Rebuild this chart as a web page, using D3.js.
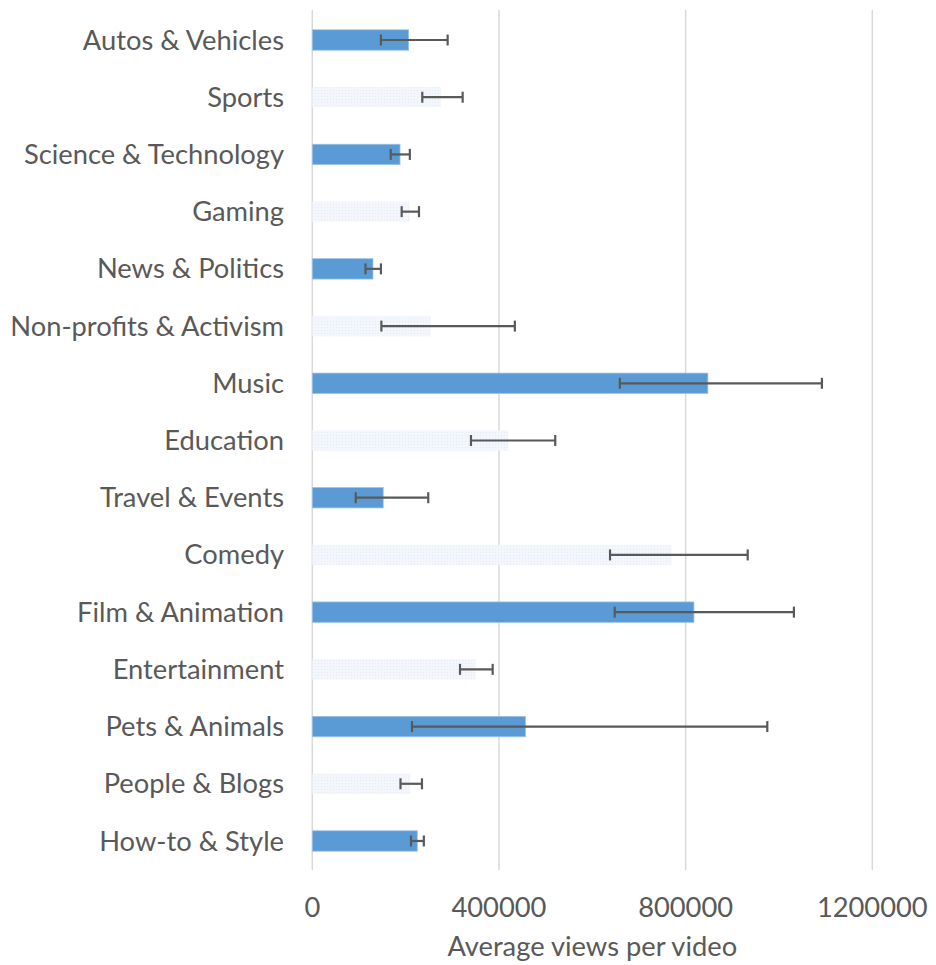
<!DOCTYPE html>
<html>
<head>
<meta charset="utf-8">
<script src="https://cdn.jsdelivr.net/npm/d3@7"></script>
<style>
  html, body { margin: 0; padding: 0; background: #ffffff; }
  svg { display: block; }
  text { font-family: Lato, "Open Sans", sans-serif; fill: #595959; }
</style>
</head>
<body>
<script>
const categories = [
  "Autos & Vehicles", "Sports", "Science & Technology", "Gaming", "News & Politics",
  "Non-profits & Activism", "Music", "Education", "Travel & Events", "Comedy",
  "Film & Animation", "Entertainment", "Pets & Animals", "People & Blogs", "How-to & Style"
];
const avgViews = [206500, 275700, 188000, 208600, 130000, 254000, 847600, 420000, 152000, 770000, 817800, 350000, 457000, 210800, 225000];
const errLow   = [147000, 235700, 168000, 191500, 114000, 148000, 659000, 340000, 93000, 638000, 648000, 316500, 213600, 189000, 211500];
const errHigh  = [290000, 322200, 209000, 228600, 147000, 434000, 1092000, 520600, 248500, 933000, 1032000, 386500, 975000, 235000, 239000];
const xTicks = [0, 400000, 800000, 1200000];
const xTitle = "Average views per video";

const W = 936, H = 965;
const svg = d3.select("body").append("svg").attr("width", W).attr("height", H);

const defs = svg.append("defs");
const pat = defs.append("pattern").attr("id", "dots")
  .attr("patternUnits", "userSpaceOnUse").attr("width", 3).attr("height", 3);
pat.append("rect").attr("width", 3).attr("height", 3).attr("fill", "#f3f7fc");
pat.append("rect").attr("width", 1).attr("height", 1).attr("fill", "#e2ebf6");

const plotTop = 11.4, plotBottom = 869.6;
const x = d3.scaleLinear().domain([0, 1200000]).range([312.3, 872.3]);
const y = d3.scaleBand().domain(categories).range([plotTop, plotBottom])
  .paddingInner(0.643).paddingOuter(0.3215);

// gridlines
svg.append("g").selectAll("line").data(xTicks).join("line")
  .attr("x1", d => x(d)).attr("x2", d => x(d))
  .attr("y1", 10).attr("y2", 870)
  .attr("stroke", "#d9d9d9").attr("stroke-width", 1.5);

const data = categories.map((c, i) => ({ c, v: avgViews[i], lo: errLow[i], hi: errHigh[i], i }));

// bars
svg.append("g").selectAll("rect").data(data).join("rect")
  .attr("x", x(0))
  .attr("y", d => y(d.c))
  .attr("width", d => x(d.v) - x(0))
  .attr("height", y.bandwidth())
  .attr("fill", d => d.i % 2 === 0 ? "#5b9bd5" : "url(#dots)")
  .attr("stroke", d => d.i % 2 === 0 ? "#9dc3e6" : "none")
  .attr("stroke-width", 0.75);

// error bars
const eb = svg.append("g").attr("stroke", "#595959").attr("stroke-width", 2.2);
data.forEach(d => {
  const cy = y(d.c) + y.bandwidth() / 2;
  eb.append("line").attr("x1", x(d.lo)).attr("x2", x(d.hi)).attr("y1", cy).attr("y2", cy);
  eb.append("line").attr("x1", x(d.lo)).attr("x2", x(d.lo)).attr("y1", cy - 5.5).attr("y2", cy + 5.5);
  eb.append("line").attr("x1", x(d.hi)).attr("x2", x(d.hi)).attr("y1", cy - 5.5).attr("y2", cy + 5.5);
});

// category labels
svg.append("g").selectAll("text").data(categories).join("text")
  .attr("x", 284)
  .attr("y", d => y(d) + y.bandwidth() / 2)
  .attr("dy", "0.35em")
  .attr("text-anchor", "end")
  .style("font-size", "27.3px")
  .text(d => d);

// tick labels
svg.append("g").selectAll("text").data(xTicks).join("text")
  .attr("x", d => x(d))
  .attr("y", 917)
  .attr("text-anchor", "middle")
  .style("font-size", "27.3px")
  .text(d => d3.format("d")(d));

// axis title
svg.append("text")
  .attr("x", (x(0) + x(1200000)) / 2)
  .attr("y", 956)
  .attr("text-anchor", "middle")
  .style("font-size", "27.3px")
  .text(xTitle);
</script>
</body>
</html>
